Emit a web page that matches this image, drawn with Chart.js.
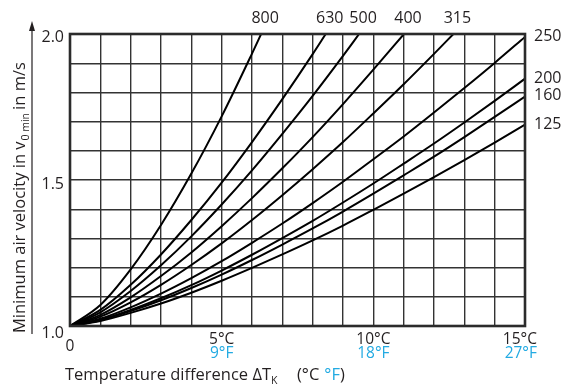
<!DOCTYPE html>
<html>
<head>
<meta charset="utf-8">
<script src="https://cdn.jsdelivr.net/npm/chart.js@4/dist/chart.umd.min.js"></script>
<style>
  html, body { margin: 0; padding: 0; background: #fff; }
</style>
</head>
<body>
<canvas id="chart" width="561" height="388"></canvas>
<script>
// temperature difference in °C, one value per grid line
const dT = [0, 1, 2, 3, 4, 5, 6, 7, 8, 9, 10, 11, 12, 13, 14, 15];

// minimum air velocity (m/s) read at each dT, per curve
const v800 = [1.0, 1.072, 1.194, 1.346, 1.522, 1.718, 1.933];
const v630 = [1.0, 1.055, 1.141, 1.245, 1.363, 1.491, 1.630, 1.777, 1.931];
const v500 = [1.0, 1.047, 1.120, 1.208, 1.307, 1.416, 1.533, 1.658, 1.788, 1.925];
const v400 = [1.0, 1.038, 1.098, 1.171, 1.252, 1.342, 1.438, 1.540, 1.647, 1.760, 1.878];
const v315 = [1.0, 1.032, 1.081, 1.141, 1.209, 1.283, 1.363, 1.448, 1.537, 1.630, 1.728, 1.828, 1.932];
const v250 = [1.0, 1.025, 1.064, 1.111, 1.164, 1.222, 1.285, 1.351, 1.421, 1.494, 1.571, 1.649, 1.731, 1.815, 1.901, 1.99];
const v200 = [1.0, 1.021, 1.055, 1.095, 1.140, 1.190, 1.244, 1.301, 1.360, 1.423, 1.488, 1.556, 1.625, 1.697, 1.771, 1.847];
const v160 = [1.0, 1.020, 1.051, 1.088, 1.130, 1.176, 1.226, 1.279, 1.334, 1.392, 1.453, 1.516, 1.580, 1.647, 1.716, 1.786];
const v125 = [1.0, 1.017, 1.045, 1.077, 1.114, 1.155, 1.199, 1.245, 1.293, 1.344, 1.398, 1.453, 1.510, 1.568, 1.628, 1.69];

// dT where a curve leaves the chart at 2.0 m/s (null = runs to 15 °C)
const curveNames = ["800", "630", "500", "400", "315", "250", "200", "160", "125"];
const curveValues = [v800, v630, v500, v400, v315, v250, v200, v160, v125];
const topExit = [6.3, 8.43, 9.53, 11.01, 12.64, null, null, null, null];

const xTickAt = [0, 5, 10, 15];
const xTickC = ["0", "5°C", "10°C", "15°C"];
const xTickF = ["", "9°F", "18°F", "27°F"];
const yTickAt = [2.0, 1.5, 1.0];
const yTicks = ["2.0", "1.5", "1.0"];

const FONT = '"Open Sans", "Noto Sans", sans-serif';
const INK = "#231f20";
const BLUE = "#22aae2";

const datasets = curveValues.map((vals, i) => {
  const pts = vals.map((v, j) => ({ x: dT[j], y: v }));
  if (topExit[i] !== null) pts.push({ x: topExit[i], y: 2.0 });
  return {
    label: curveNames[i],
    data: pts,
    borderColor: "#000",
    borderWidth: 2,
    pointRadius: 0,
    fill: false,
    cubicInterpolationMode: "monotone"
  };
});

const decorations = {
  id: "decorations",
  afterDraw(chart) {
    const ctx = chart.ctx;
    const a = chart.chartArea;
    const xs = chart.scales.x, ys = chart.scales.y;
    ctx.save();

    // frame
    ctx.strokeStyle = "#2b2b2b";
    ctx.lineWidth = 2.6;
    ctx.strokeRect(a.left, a.top, a.right - a.left, a.bottom - a.top);

    ctx.fillStyle = INK;
    ctx.font = "16px " + FONT;

    // y ticks
    ctx.textAlign = "right";
    ctx.textBaseline = "alphabetic";
    const yOff = [8, 9, 12];
    yTicks.forEach((t, i) => {
      ctx.fillText(t, a.left - 6, ys.getPixelForValue(yTickAt[i]) + yOff[i]);
    });

    // x ticks (°C black, °F blue)
    ctx.font = "15.5px " + FONT;
    xTickAt.forEach((v, i) => {
      const px = xs.getPixelForValue(v);
      const last = i === xTickAt.length - 1;
      ctx.textAlign = last ? "right" : "center";
      const tx = last ? px + 12 : px;
      ctx.fillStyle = INK;
      if (i === 0) {
        ctx.fillText(xTickC[i], px, a.bottom + 25);
      } else {
        ctx.fillText(xTickC[i], tx, a.bottom + 18);
        ctx.fillStyle = BLUE;
        ctx.fillText(xTickF[i], tx, a.bottom + 32);
      }
    });

    // x title
    ctx.font = "16.5px " + FONT;
    ctx.textAlign = "left";
    ctx.fillStyle = INK;
    let x = 65;
    const by = a.bottom + 54;
    const t1 = "Temperature difference ΔT";
    ctx.fillText(t1, x, by);
    x += ctx.measureText(t1).width;
    ctx.font = "10.5px " + FONT;
    ctx.fillText("K", x, by + 4);
    ctx.font = "16.5px " + FONT;
    x = 297;
    ctx.fillText("(°C", x, by);
    x += ctx.measureText("(°C").width + 5;
    ctx.fillStyle = BLUE;
    ctx.fillText("°F", x, by);
    x += ctx.measureText("°F").width;
    ctx.fillStyle = INK;
    ctx.fillText(")", x, by);

    // y title, rotated, with subscript
    ctx.save();
    ctx.translate(24.5, 333);
    ctx.rotate(-Math.PI / 2);
    let yx = 0;
    const s1 = "Minimum air velocity in v";
    ctx.fillText(s1, yx, 0);
    yx += ctx.measureText(s1).width + 1;
    ctx.font = "10.5px " + FONT;
    const s2 = "0 min";
    ctx.fillText(s2, yx, 4);
    yx += ctx.measureText(s2).width + 3;
    ctx.font = "16.5px " + FONT;
    ctx.fillText("in m/s", yx, 0);
    ctx.restore();

    // y arrow
    ctx.strokeStyle = INK;
    ctx.lineWidth = 1.2;
    ctx.beginPath();
    ctx.moveTo(32, 334);
    ctx.lineTo(32, 30);
    ctx.stroke();
    ctx.beginPath();
    ctx.moveTo(32, 21);
    ctx.lineTo(29, 31);
    ctx.lineTo(35, 31);
    ctx.closePath();
    ctx.fill();

    // curve labels at the curve ends
    ctx.font = "16px " + FONT;
    chart.data.datasets.forEach((ds, i) => {
      const end = ds.data[ds.data.length - 1];
      const px = xs.getPixelForValue(end.x);
      const py = ys.getPixelForValue(end.y);
      if (topExit[i] !== null) {
        ctx.textAlign = "center";
        ctx.fillText(ds.label, px + 4, a.top - 11);
      } else {
        ctx.textAlign = "left";
        ctx.fillText(ds.label, a.right + 9, py + 4);
      }
    });

    ctx.restore();
  }
};

new Chart(document.getElementById("chart"), {
  type: "line",
  data: { datasets },
  options: {
    responsive: false,
    animation: false,
    layout: { padding: { left: 70, right: 36, top: 34, bottom: 62 } },
    plugins: { legend: { display: false }, tooltip: { enabled: false } },
    scales: {
      x: {
        type: "linear", min: 0, max: 15,
        ticks: { stepSize: 1, display: false },
        grid: { color: "#333", lineWidth: 1.4, drawTicks: false },
        border: { display: false }
      },
      y: {
        type: "linear", min: 1, max: 2,
        ticks: { stepSize: 0.1, display: false },
        grid: { color: "#333", lineWidth: 1.4, drawTicks: false },
        border: { display: false }
      }
    }
  },
  plugins: [decorations]
});
</script>
</body>
</html>
